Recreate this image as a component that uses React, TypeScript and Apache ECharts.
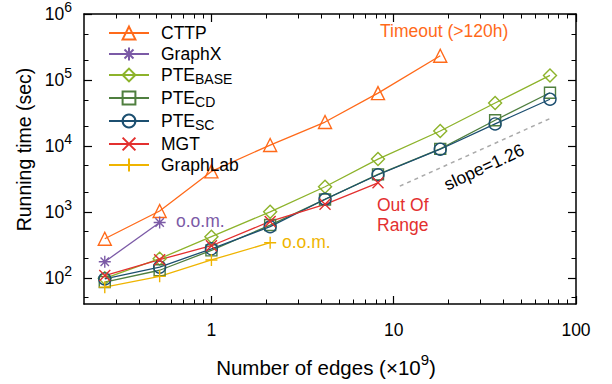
import React, { useEffect, useRef } from 'react';
import * as echarts from 'echarts';

// Number of edges (x10^9) for each point index
const edges = [0.26, 0.52, 1.0, 2.1, 4.2, 8.2, 18, 36, 72];

// Running time (sec)
const cttp = [390, 1030, 4100, 10300, 23000, 63000, 233000];
const graphx = [175, 690];
const pteBase = [98, 195, 420, 1000, 2400, 6300, 16800, 44700, 117000];
const pteCd = [86, 130, 260, 630, 1540, 3700, 9000, 24500, 64000];
const pteSc = [96, 145, 275, 595, 1550, 3650, 8900, 21500, 51000];
const mgt = [108, 188, 306, 715, 1300, 2750];
const graphLab = [72, 105, 186, 340];

// reference slope line end points
const slopeX = [10.8, 72];
const slopeY = [2450, 26000];

const xMajor = [1, 10, 100];
const xMinor = [0.3, 0.4, 0.5, 0.6, 0.7, 0.8, 0.9, 2, 3, 4, 5, 6, 7, 8, 9, 20, 30, 40, 50, 60, 70, 80, 90];
const yMajor = [100, 1000, 10000, 100000, 1000000];
const yMinor = [50, 200, 500, 2000, 5000, 20000, 50000, 200000, 500000];

const FONT = '"Liberation Sans", Arial, Helvetica, sans-serif';

const C_CTTP = '#ff6a1a';
const C_GX = '#7b5aa6';
const C_BASE = '#8db32b';
const C_CD = '#4f7f3f';
const C_SC = '#1c4f70';
const C_MGT = '#e3302f';
const C_GL = '#efb400';

const P_X = 'path://M0,0L10,10M10,0L0,10';
const P_PLUS = 'path://M5,0L5,10M0,5L10,5';
const P_STAR = 'path://M5,0L5,10M0,5L10,5M1.5,1.5L8.5,8.5M8.5,1.5L1.5,8.5';

export default function App() {
  const ref = useRef<HTMLDivElement>(null);
  useEffect(() => {
    const chart = echarts.init(ref.current!, null, { renderer: 'svg' });
    const pairs = (ys: number[]) => ys.map((y, i) => [edges[i], y]);
    const mk = (name: string, color: string, symbol: string, ys: number[], size = 12) => ({
      name,
      type: 'line',
      data: pairs(ys),
      symbol,
      symbolSize: size,
      xAxisIndex: 0,
      yAxisIndex: 0,
      color,
      lineStyle: { color, width: 1.3 },
      itemStyle: { color: 'rgba(255,255,255,0)', borderColor: color, borderWidth: 1.4 },
      emphasis: { disabled: true },
      z: 3,
    });

    const names = ['CTTP', 'GraphX', 'PTE_BASE', 'PTE_CD', 'PTE_SC', 'MGT', 'GraphLab'];

    const baseLog = { type: 'log', logBase: 10, min: 0.2, max: 100 };
    const yLog = { type: 'log', logBase: 10, min: 40, max: 1000000 };
    const lineBlack = { show: true, lineStyle: { color: '#000', width: 1.5 } };

    const supFmt = (v: number) => `{b|10}{s|${Math.round(Math.log10(v))}}`;

    const option: any = {
      animation: false,
      backgroundColor: '#fff',
      textStyle: { fontFamily: FONT },
      grid: { left: 84, right: 36, top: 13, bottom: 80, containLabel: false },
      legend: {
        data: names,
        left: 108,
        top: 24,
        orient: 'vertical',
        padding: 0,
        itemWidth: 40,
        itemHeight: 16,
        itemGap: 3,
        selectedMode: false,
        formatter: (n: string) => (n.startsWith('PTE_') ? `{m|PTE}{s|${n.slice(4)}}` : `{m|${n}}`),
        textStyle: {
          fontFamily: FONT,
          fontSize: 17.5,
          color: '#000',
          rich: {
            m: { fontFamily: FONT, fontSize: 17.5, lineHeight: 16, color: '#000', padding: [0, 0, 0, 7] },
            s: { fontFamily: FONT, fontSize: 14, lineHeight: 8, color: '#000', verticalAlign: 'top', padding: [5, 0, 0, 0] },
          },
        },
      },
      xAxis: [
        {
          ...baseLog,
          position: 'bottom',
          axisLine: lineBlack,
          axisTick: { show: true, inside: true, length: 8, customValues: xMajor, lineStyle: { color: '#000', width: 1.2 } },
          axisLabel: {
            customValues: xMajor,
            formatter: (v: number) => String(Math.round(v)),
            fontFamily: FONT,
            fontSize: 17.5,
            color: '#000',
            margin: 17,
          },
          splitLine: { show: false },
          name: '{a|Number of edges (×10}{s|9}{a|)}',
          nameLocation: 'middle',
          nameGap: 48,
          nameTextStyle: {
            padding: [0, 8, 0, 0],
            rich: {
              a: { fontFamily: FONT, fontSize: 20.5, color: '#000', lineHeight: 30 },
              s: { fontFamily: FONT, fontSize: 15, color: '#000', lineHeight: 6, verticalAlign: 'top' },
            },
          },
        },
        {
          ...baseLog,
          position: 'bottom',
          axisLine: { show: false },
          axisTick: { show: true, inside: true, length: 4.5, customValues: xMinor, lineStyle: { color: '#000', width: 1 } },
          axisLabel: { show: false },
          splitLine: { show: false },
        },
        {
          ...baseLog,
          position: 'top',
          axisLine: lineBlack,
          axisTick: { show: true, inside: true, length: 8, customValues: xMajor, lineStyle: { color: '#000', width: 1.2 } },
          axisLabel: { show: false },
          splitLine: { show: false },
        },
        {
          ...baseLog,
          position: 'top',
          axisLine: { show: false },
          axisTick: { show: true, inside: true, length: 4.5, customValues: xMinor, lineStyle: { color: '#000', width: 1 } },
          axisLabel: { show: false },
          splitLine: { show: false },
        },
      ],
      yAxis: [
        {
          ...yLog,
          position: 'left',
          axisLine: lineBlack,
          axisTick: { show: true, inside: true, length: 8, customValues: yMajor, lineStyle: { color: '#000', width: 1.2 } },
          axisLabel: {
            customValues: yMajor,
            formatter: supFmt,
            margin: 12,
            rich: {
              b: { fontFamily: FONT, fontSize: 17.5, color: '#000', lineHeight: 28 },
              s: { fontFamily: FONT, fontSize: 14, color: '#000', lineHeight: 6, verticalAlign: 'top' },
            },
          },
          splitLine: { show: false },
          name: 'Running time (sec)',
          nameLocation: 'middle',
          nameGap: 46,
          nameTextStyle: { fontFamily: FONT, fontSize: 19.5, color: '#000', padding: [0, 0, 0, 19] },
        },
        {
          ...yLog,
          position: 'left',
          axisLine: { show: false },
          axisTick: { show: true, inside: true, length: 4.5, customValues: yMinor, lineStyle: { color: '#000', width: 1 } },
          axisLabel: { show: false },
          splitLine: { show: false },
        },
        {
          ...yLog,
          position: 'right',
          axisLine: lineBlack,
          axisTick: { show: true, inside: true, length: 8, customValues: yMajor, lineStyle: { color: '#000', width: 1.2 } },
          axisLabel: { show: false },
          splitLine: { show: false },
        },
        {
          ...yLog,
          position: 'right',
          axisLine: { show: false },
          axisTick: { show: true, inside: true, length: 4.5, customValues: yMinor, lineStyle: { color: '#000', width: 1 } },
          axisLabel: { show: false },
          splitLine: { show: false },
        },
      ],
      series: [
        {
          name: 'slope',
          type: 'line',
          data: slopeX.map((x, i) => [x, slopeY[i]]),
          symbol: 'none',
          silent: true,
          lineStyle: { color: '#aaaaaa', width: 1.5, type: [4, 4] },
          z: 2,
        },
        mk('CTTP', C_CTTP, 'triangle', cttp, 13),
        mk('GraphX', C_GX, P_STAR, graphx, 12),
        mk('PTE_BASE', C_BASE, 'diamond', pteBase, 13),
        mk('PTE_CD', C_CD, 'rect', pteCd, 11),
        mk('PTE_SC', C_SC, 'circle', pteSc, 12),
        mk('MGT', C_MGT, P_X, mgt, 11),
        mk('GraphLab', C_GL, P_PLUS, graphLab, 12),
      ],
      graphic: [
        { type: 'text', left: 176, top: 212, style: { text: 'o.o.m.', fill: C_GX, font: `17.5px ${FONT}` } },
        { type: 'text', left: 282, top: 233, style: { text: 'o.o.m.', fill: C_GL, font: `17.5px ${FONT}` } },
        { type: 'text', left: 377, top: 195, style: { text: 'Out Of\nRange', fill: C_MGT, font: `17.5px ${FONT}`, lineHeight: 20 } },
        { type: 'text', left: 380, top: 22, style: { text: 'Timeout (>120h)', fill: C_CTTP, font: `17.5px ${FONT}` } },
        {
          type: 'text',
          x: 484,
          y: 167,
          rotation: (25 * Math.PI) / 180,
          style: { text: 'slope=1.26', fill: '#000', font: `17.5px ${FONT}`, align: 'center', verticalAlign: 'middle' },
        },
      ],
    };
    chart.setOption(option);
    return () => chart.dispose();
  }, []);
  return <div ref={ref} style={{ position: 'fixed', left: 0, top: 0, width: 612, height: 384 }} />;
}
